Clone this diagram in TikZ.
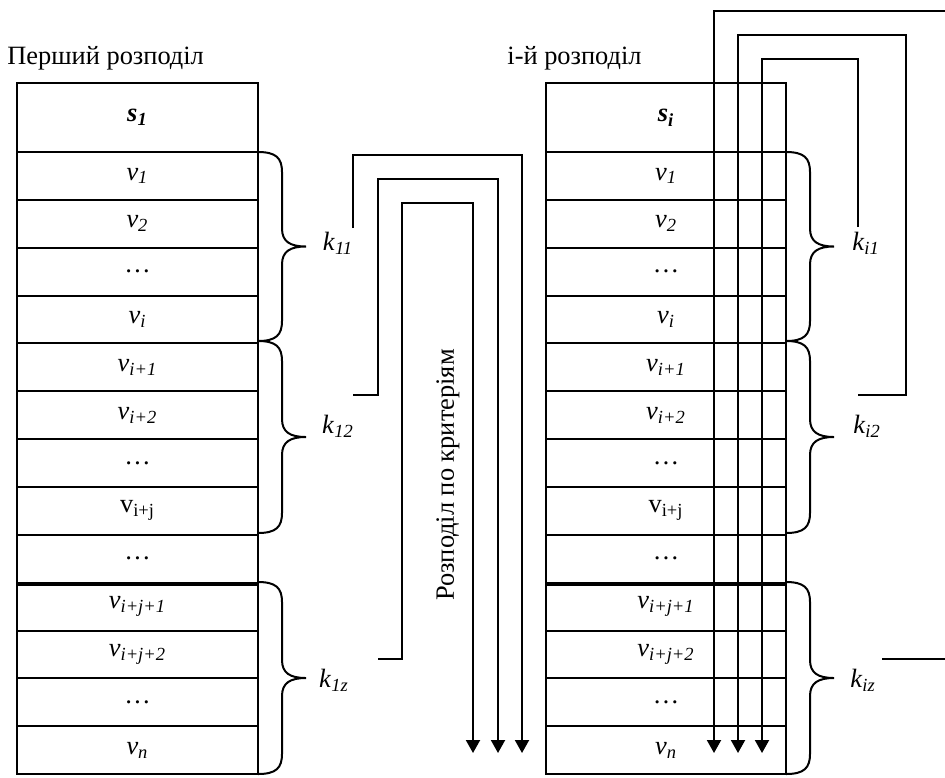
\documentclass[tikz,border=0pt]{standalone}
\usepackage{fontspec}
\setmainfont{Liberation Serif}
\usetikzlibrary{arrows.meta}
\newcommand{\vlab}[1]{\textit{v}\textsubscript{\textit{#1}}}
\newcommand{\klab}[1]{\textit{k}\textsubscript{\textit{#1}}}
\newcommand{\curlybr}[3]{%
  \pgfmathsetmacro{\ym}{(#2+#3)/2}%
  \draw[line] (#1,#2) .. controls ({#1+18},#2) and ({#1+24},{#2+6}) .. ({#1+24},{#2+20})
    -- ({#1+24},{\ym-18}) .. controls ({#1+24},{\ym-5}) and ({#1+32},\ym) .. ({#1+48},\ym)
    .. controls ({#1+32},\ym) and ({#1+24},{\ym+5}) .. ({#1+24},{\ym+18})
    -- ({#1+24},{#3-20}) .. controls ({#1+24},{#3-6}) and ({#1+18},#3) .. (#1,#3);}
\begin{document}
\begin{tikzpicture}[x=0.5pt,y=-0.5pt,
  every node/.style={font=\fontsize{13.2}{15}\selectfont},
  line/.style={line width=1pt},
  cell/.style={draw,line width=1pt,inner sep=0pt,minimum width=120.5pt,minimum height=23.925pt},
  headcell/.style={draw,line width=1pt,inner sep=0pt,minimum width=120.5pt,minimum height=34.5pt},
  arr/.style={line width=1pt,-{Triangle[length=6.5pt,width=7pt]}}]
\fill[white] (0,0) rectangle (945,777);
\useasboundingbox (0,0) rectangle (945,777);

% titles
\node[anchor=west,inner sep=0pt] (t1) at (7,58) {Перший розподіл};
\node[anchor=west,inner sep=0pt] (t2) at (507,58) {і-й розподіл};

% left table
\node[headcell] (L0) at (137.5,117.5) {\textbf{\textit{s}\textsubscript{\textit{1}}}};
\foreach \i/\lab in {1/{\vlab{1}},2/{\vlab{2}},3/{…},4/{\vlab{i}},5/{\vlab{i+1}},6/{\vlab{i+2}},7/{…},8/{v\textsubscript{i+j}},9/{…},10/{\vlab{i+j+1}},11/{\vlab{i+j+2}},12/{…},13/{\vlab{n}}}
  \node[cell] (L\i) at (137.5,{152+(\i-0.5)*47.85}) {\lab};
% right table
\node[headcell,minimum width=120pt] (R0) at (666,117.5) {\textbf{\textit{s}\textsubscript{\textit{i}}}};
\foreach \i/\lab in {1/{\vlab{1}},2/{\vlab{2}},3/{…},4/{\vlab{i}},5/{\vlab{i+1}},6/{\vlab{i+2}},7/{…},8/{v\textsubscript{i+j}},9/{…},10/{\vlab{i+j+1}},11/{\vlab{i+j+2}},12/{…},13/{\vlab{n}}}
  \node[cell,minimum width=120pt] (R\i) at (666,{152+(\i-0.5)*47.85}) {\lab};
% double separators
\draw[line] (L9.south west) ++(0,1.5) -- ++(241,0);
\draw[line] (R9.south west) ++(0,1.5) -- ++(240,0);

% braces
\curlybr{258}{152}{341}
\curlybr{258}{341}{533}
\curlybr{258}{582}{774}
\curlybr{786}{152}{341}
\curlybr{786}{341}{533}
\curlybr{786}{582}{774}

% brace labels
\node (k11) at (338,243) {\klab{11}};
\node (k12) at (338,426) {\klab{12}};
\node (k1z) at (334,680) {\klab{1z}};
\node (ki1) at (866,243) {\klab{i1}};
\node (ki2) at (867,426) {\klab{i2}};
\node (kiz) at (863,680) {\klab{iz}};

% rotated label
\node[rotate=90] (crit) at (448,475) {Розподіл по критеріям};

% left connectors
\coordinate (a1s) at (353,228); \coordinate (a1u) at (353,155);
\coordinate (a1r) at (522,155); \coordinate (a1e) at (522,753);
\draw[arr] (a1s) -- (a1u) -- (a1r) -- (a1e);
\coordinate (a2s) at (353,395); \coordinate (a2b) at (378,395);
\coordinate (a2u) at (378,179); \coordinate (a2r) at (498,179); \coordinate (a2e) at (498,753);
\draw[arr] (a2s) -- (a2b) -- (a2u) -- (a2r) -- (a2e);
\coordinate (a3s) at (378,659); \coordinate (a3b) at (402,659);
\coordinate (a3u) at (402,203); \coordinate (a3r) at (473,203); \coordinate (a3e) at (473,753);
\draw[arr] (a3s) -- (a3b) -- (a3u) -- (a3r) -- (a3e);

% right connectors
\coordinate (b1s) at (945,11); \coordinate (b1l) at (714,11); \coordinate (b1e) at (714,753);
\draw[arr] (b1s) -- (b1l) -- (b1e);
\coordinate (b2s) at (858,395); \coordinate (b2b) at (906,395);
\coordinate (b2u) at (906,35); \coordinate (b2l) at (738,35); \coordinate (b2e) at (738,753);
\draw[arr] (b2s) -- (b2b) -- (b2u) -- (b2l) -- (b2e);
\coordinate (b3s) at (858,227); \coordinate (b3u) at (858,59);
\coordinate (b3l) at (762,59); \coordinate (b3e) at (762,753);
\draw[arr] (b3s) -- (b3u) -- (b3l) -- (b3e);
\coordinate (b4s) at (882,659); \coordinate (b4e) at (945,659);
\draw[line] (b4s) -- (b4e);
\end{tikzpicture}
\end{document}
